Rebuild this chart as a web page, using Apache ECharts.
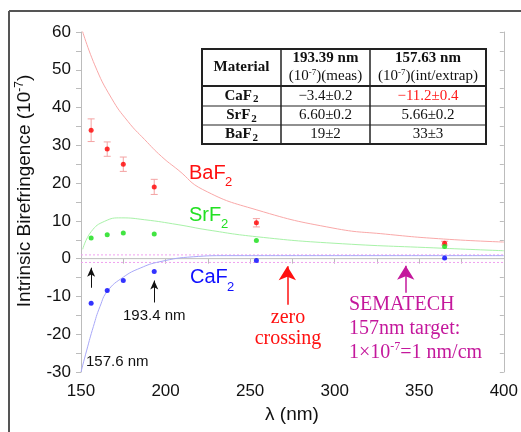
<!DOCTYPE html>
<html>
<head>
<meta charset="utf-8">
<script src="https://cdn.jsdelivr.net/npm/echarts@6/dist/echarts.min.js"></script>
<style>html,body{margin:0;padding:0;background:#fff}#c{width:521px;height:432px}</style>
</head>
<body>
<div id="c"></div>
<script>
// ---- data ----
const wavelengths = [156, 165.5, 175, 193.3, 253.7, 365];
const baf2 = [34.0, 29.0, 25.0, 19.0, 9.5, 4.1];
const baf2Err = [3, 1.9, 1.9, 2, 1.1, 0.5];
const srf2 = [5.5, 6.35, 6.8, 6.5, 4.8, 3.2];
const caf2 = [-11.8, -8.4, -5.8, -3.4, -0.5, 0.2];

const baf2FitX = [150, 158.1, 168, 177.8, 187.7, 197.5, 207.4, 222, 254, 299, 330, 364.4, 400];
const baf2FitY = [61.5, 51.3, 42.5, 36.3, 31.5, 27.1, 23.5, 18.3, 12.9, 8.1, 6.5, 5.2, 4.4];
const srf2FitX = [151, 156.1, 164, 173.8, 187.7, 207.4, 225, 254, 299, 364.4, 400];
const srf2FitY = [2.5, 7.2, 9.9, 10.8, 10.3, 9.0, 7.6, 5.8, 4.1, 2.75, 2.1];
const caf2FitX = [150, 153.4, 157.3, 161.2, 165.8, 175, 185, 196.7, 216.4, 236, 300, 400];
const caf2FitY = [-30, -24.2, -18, -12.7, -8.5, -4.9, -2.5, -0.8, 0.5, 0.8, 0.8, 0.8];

const targetLevels = [1, -1];
const xRange = [150, 400];
const yRange = [-30, 60];
const xTickLabels = [150, 200, 250, 300, 350, 400];
const yTickLabels = [-30, -20, -10, 0, 10, 20, 30, 40, 50, 60];

const tableHeader = ['Material', '193.39 nm', '157.63 nm'];
const tableMaterials = ['CaF', 'SrF', 'BaF'];
const table193 = ['\u22123.4\u00b10.2', '6.60\u00b10.2', '19\u00b12'];
const table157 = ['\u221211.2\u00b10.4', '5.66\u00b10.2', '33\u00b13'];

// ---- chart ----
const zip = (a, b) => a.map((v, i) => [v, b[i]]);
const chart = echarts.init(document.getElementById('c'), null, {renderer: 'canvas'});
const sans = 'Liberation Sans, Arial, sans-serif';
const serif = 'Liberation Serif, Times New Roman, serif';
const axisCol = '#bcbcbc';

function errRender(params, api) {
  const x = api.value(0), lo = api.value(1), hi = api.value(2);
  const p1 = api.coord([x, lo]), p2 = api.coord([x, hi]);
  const w = 3.5;
  const st = {stroke: '#f4a3a3', lineWidth: 1};
  return {type: 'group', children: [
    {type: 'line', shape: {x1: p1[0], y1: p1[1], x2: p2[0], y2: p2[1]}, style: st},
    {type: 'line', shape: {x1: p1[0]-w, y1: p1[1], x2: p1[0]+w, y2: p1[1]}, style: st},
    {type: 'line', shape: {x1: p2[0]-w, y1: p2[1], x2: p2[0]+w, y2: p2[1]}, style: st}
  ]};
}

const tableX = 202, tableY = 49, tableW = 284, tableH = 95;
const colX = [202, 281, 370, 486];
const rowY = [49, 86, 106, 125, 144];
const cx = i => (colX[i] + colX[i+1]) / 2;
const cy = i => (rowY[i] + rowY[i+1]) / 2;
const tableEls = [
  {type: 'rect', shape: {x: tableX, y: tableY, width: tableW, height: tableH}, style: {fill: '#fff', stroke: '#222', lineWidth: 2}},
  {type: 'line', shape: {x1: colX[1], y1: rowY[0], x2: colX[1], y2: rowY[4]}, style: {stroke: '#222', lineWidth: 1.5}},
  {type: 'line', shape: {x1: colX[2], y1: rowY[0], x2: colX[2], y2: rowY[4]}, style: {stroke: '#222', lineWidth: 1.5}},
  {type: 'line', shape: {x1: colX[0], y1: rowY[1], x2: colX[3], y2: rowY[1]}, style: {stroke: '#222', lineWidth: 2}},
  {type: 'line', shape: {x1: colX[0], y1: rowY[2], x2: colX[3], y2: rowY[2]}, style: {stroke: '#222', lineWidth: 1.2}},
  {type: 'line', shape: {x1: colX[0], y1: rowY[3], x2: colX[3], y2: rowY[3]}, style: {stroke: '#222', lineWidth: 1.2}},
  {type: 'text', x: cx(0), y: cy(0), style: {text: tableHeader[0], font: 'bold 15px ' + serif, fill: '#111', align: 'center', verticalAlign: 'middle'}},
  {type: 'text', x: cx(1), y: 58, style: {text: tableHeader[1], font: 'bold 15px ' + serif, fill: '#111', align: 'center', verticalAlign: 'middle'}},
  {type: 'text', x: cx(2), y: 58, style: {text: tableHeader[2], font: 'bold 15px ' + serif, fill: '#111', align: 'center', verticalAlign: 'middle'}},
  {type: 'text', x: cx(1), y: 76, style: {text: '(10{sup|-7})(meas)', font: '15px ' + serif, fill: '#111', align: 'center', verticalAlign: 'middle',
      rich: {sup: {fontSize: 9, fontFamily: serif, verticalAlign: 'top', lineHeight: 16}}}},
  {type: 'text', x: cx(2), y: 76, style: {text: '(10{sup|-7})(int/extrap)', font: '15px ' + serif, fill: '#111', align: 'center', verticalAlign: 'middle',
      rich: {sup: {fontSize: 9, fontFamily: serif, verticalAlign: 'top', lineHeight: 16}}}}
];
for (let r = 0; r < 3; r++) {
  tableEls.push({type: 'text', x: cx(0), y: cy(r+1), style: {text: '{m|' + tableMaterials[r] + '}{s|2}', fill: '#111', align: 'center', verticalAlign: 'middle',
      rich: {m: {fontSize: 15, fontWeight: 'bold', fontFamily: serif, lineHeight: 18},
             s: {fontSize: 11, fontWeight: 'bold', fontFamily: serif, lineHeight: 12, verticalAlign: 'bottom', padding: [0, 0, 0, 1]}}}});
  tableEls.push({type: 'text', x: cx(1), y: cy(r+1), style: {text: table193[r], font: '15px ' + serif, fill: '#111', align: 'center', verticalAlign: 'middle'}});
  tableEls.push({type: 'text', x: cx(2), y: cy(r+1), style: {text: table157[r], font: '15px ' + serif, fill: r === 0 ? '#ff1a1a' : '#111', align: 'center', verticalAlign: 'middle'}});
}

const magenta = '#c4189c';
const graphics = [
  {type: 'line', shape: {x1: 9, y1: 11, x2: 9, y2: 432}, style: {stroke: '#555', lineWidth: 2}},
  {type: 'line', shape: {x1: 9, y1: 11, x2: 521, y2: 11}, style: {stroke: '#555', lineWidth: 2}},
  {type: 'text', x: 25, y: 191, rotation: Math.PI / 2, style: {text: 'Intrinsic Birefringence (10{sup|-7})', font: '19px ' + sans, fill: '#111', align: 'center', verticalAlign: 'middle',
      rich: {sup: {fontSize: 12, fontFamily: sans, verticalAlign: 'top', lineHeight: 22}}}},
  {type: 'text', x: 292, y: 415, style: {text: '\u03bb (nm)', font: '19px ' + sans, fill: '#111', align: 'center', verticalAlign: 'middle'}},
  {type: 'text', x: 189, y: 173, style: {text: 'BaF', font: '20px ' + sans, fill: '#ff1010', align: 'left', verticalAlign: 'middle'}},
  {type: 'text', x: 225, y: 182, style: {text: '2', font: '13px ' + sans, fill: '#ff1010', align: 'left', verticalAlign: 'middle'}},
  {type: 'text', x: 189, y: 215, style: {text: 'SrF', font: '20px ' + sans, fill: '#22e022', align: 'left', verticalAlign: 'middle'}},
  {type: 'text', x: 221, y: 224, style: {text: '2', font: '13px ' + sans, fill: '#22e022', align: 'left', verticalAlign: 'middle'}},
  {type: 'text', x: 190, y: 277, style: {text: 'CaF', font: '20px ' + sans, fill: '#1010ff', align: 'left', verticalAlign: 'middle'}},
  {type: 'text', x: 227, y: 287, style: {text: '2', font: '13px ' + sans, fill: '#1010ff', align: 'left', verticalAlign: 'middle'}},
  {type: 'text', x: 86, y: 362, style: {text: '157.6 nm', font: '15px ' + sans, fill: '#111', align: 'left', verticalAlign: 'middle'}},
  {type: 'text', x: 123, y: 316, style: {text: '193.4 nm', font: '15px ' + sans, fill: '#111', align: 'left', verticalAlign: 'middle'}},
  {type: 'text', x: 288, y: 318, style: {text: 'zero', font: '20px ' + serif, fill: '#ff1010', align: 'center', verticalAlign: 'middle'}},
  {type: 'text', x: 288, y: 339, style: {text: 'crossing', font: '20px ' + serif, fill: '#ff1010', align: 'center', verticalAlign: 'middle'}},
  {type: 'text', x: 349, y: 305, style: {text: 'SEMATECH', font: '20px ' + serif, fill: magenta, align: 'left', verticalAlign: 'middle'}},
  {type: 'text', x: 349, y: 329, style: {text: '157nm target:', font: '20px ' + serif, fill: magenta, align: 'left', verticalAlign: 'middle'}},
  {type: 'text', x: 349, y: 353, style: {text: '1\u00d710{sup|-7}=1 nm/cm', font: '20px ' + serif, fill: magenta, align: 'left', verticalAlign: 'middle',
      rich: {sup: {fontSize: 12, fontFamily: serif, fill: magenta, verticalAlign: 'top', lineHeight: 24}}}},
  {type: 'group', children: tableEls, z: 100}
];

function arrow(x, y0, y1, color, size, width) {
  return [{coord: [x, y0], symbol: 'none', lineStyle: {color: color, width: width, type: 'solid'}},
          {coord: [x, y1], symbol: 'arrow', symbolSize: size}];
}

const option = {
  animation: false,
  backgroundColor: '#fff',
  grid: {left: 81, right: 17, top: 32, bottom: 60, containLabel: false},
  xAxis: [{
    type: 'value', min: xRange[0], max: xRange[1], interval: 25,
    axisLine: {show: true, lineStyle: {color: axisCol, width: 1}},
    axisTick: {show: true, length: 5, lineStyle: {color: axisCol}},
    axisLabel: {margin: 11, color: '#111', fontSize: 17, fontFamily: sans,
      formatter: v => xTickLabels.indexOf(v) >= 0 ? String(v) : ''},
    splitLine: {show: false}
  }, {
    type: 'value', position: 'top', min: xRange[0], max: xRange[1], interval: 25,
    axisLine: {show: true, lineStyle: {color: axisCol}},
    axisTick: {show: true, inside: true, length: 4, lineStyle: {color: axisCol}},
    axisLabel: {show: false}, splitLine: {show: false}
  }],
  yAxis: [{
    type: 'value', min: yRange[0], max: yRange[1], interval: 5,
    axisLine: {show: true, onZero: false, lineStyle: {color: axisCol, width: 1}},
    axisTick: {show: true, length: 5, lineStyle: {color: axisCol}},
    axisLabel: {margin: 10, color: '#111', fontSize: 17, fontFamily: sans,
      formatter: v => yTickLabels.indexOf(v) >= 0 ? String(v) : ''},
    splitLine: {show: false}
  }, {
    type: 'value', position: 'right', min: yRange[0], max: yRange[1], interval: 5,
    axisLine: {show: true, onZero: false, lineStyle: {color: axisCol}},
    axisTick: {show: true, inside: true, length: 4, lineStyle: {color: axisCol}},
    axisLabel: {show: false}, splitLine: {show: false}
  }],
  series: [
    {type: 'line', data: [[xRange[0], 0], [xRange[1], 0]], symbol: 'none', lineStyle: {color: '#c8c8c8', width: 1}, z: 1,
      markLine: {silent: true, label: {show: false}, animation: false, data: [
        arrow(156, -7.7, -2.4, '#111', [6, 9], 1),
        arrow(193.3, -11.6, -5.8, '#111', [6, 9], 1),
        arrow(272, -12.2, -2.0, '#ff1010', [13, 14], 1.5),
        arrow(342, -9.0, -1.9, magenta, [13, 14], 1.5)
      ]}},
    {type: 'line', data: [[xRange[0], targetLevels[0]], [xRange[1], targetLevels[0]]], symbol: 'none', lineStyle: {color: '#f0a0f0', width: 1, type: [2, 2]}, z: 1},
    {type: 'line', data: [[xRange[0], targetLevels[1]], [xRange[1], targetLevels[1]]], symbol: 'none', lineStyle: {color: '#f0a0f0', width: 1, type: [2, 2]}, z: 1},
    {type: 'line', data: zip(baf2FitX, baf2FitY), symbol: 'none', smooth: 0.5, lineStyle: {color: '#f9a8a8', width: 1}, z: 2},
    {type: 'line', data: zip(srf2FitX, srf2FitY), symbol: 'none', smooth: 0.5, lineStyle: {color: '#a8f2a8', width: 1}, z: 2},
    {type: 'line', data: zip(caf2FitX, caf2FitY), symbol: 'none', smooth: 0.5, lineStyle: {color: '#a8a8f8', width: 1}, z: 2},
    {type: 'custom', renderItem: errRender, data: wavelengths.map((w, i) => [w, baf2[i] - baf2Err[i], baf2[i] + baf2Err[i]]), z: 3},
    {type: 'scatter', data: zip(wavelengths, baf2), symbol: 'circle', symbolSize: 5, itemStyle: {color: '#ff0000'}, z: 4},
    {type: 'scatter', data: zip(wavelengths, srf2), symbol: 'circle', symbolSize: 5, itemStyle: {color: '#11dd11'}, z: 4},
    {type: 'scatter', data: zip(wavelengths, caf2), symbol: 'circle', symbolSize: 5, itemStyle: {color: '#0000ff'}, z: 4}
  ],
  graphic: graphics
};
chart.setOption(option);
</script>
</body>
</html>
